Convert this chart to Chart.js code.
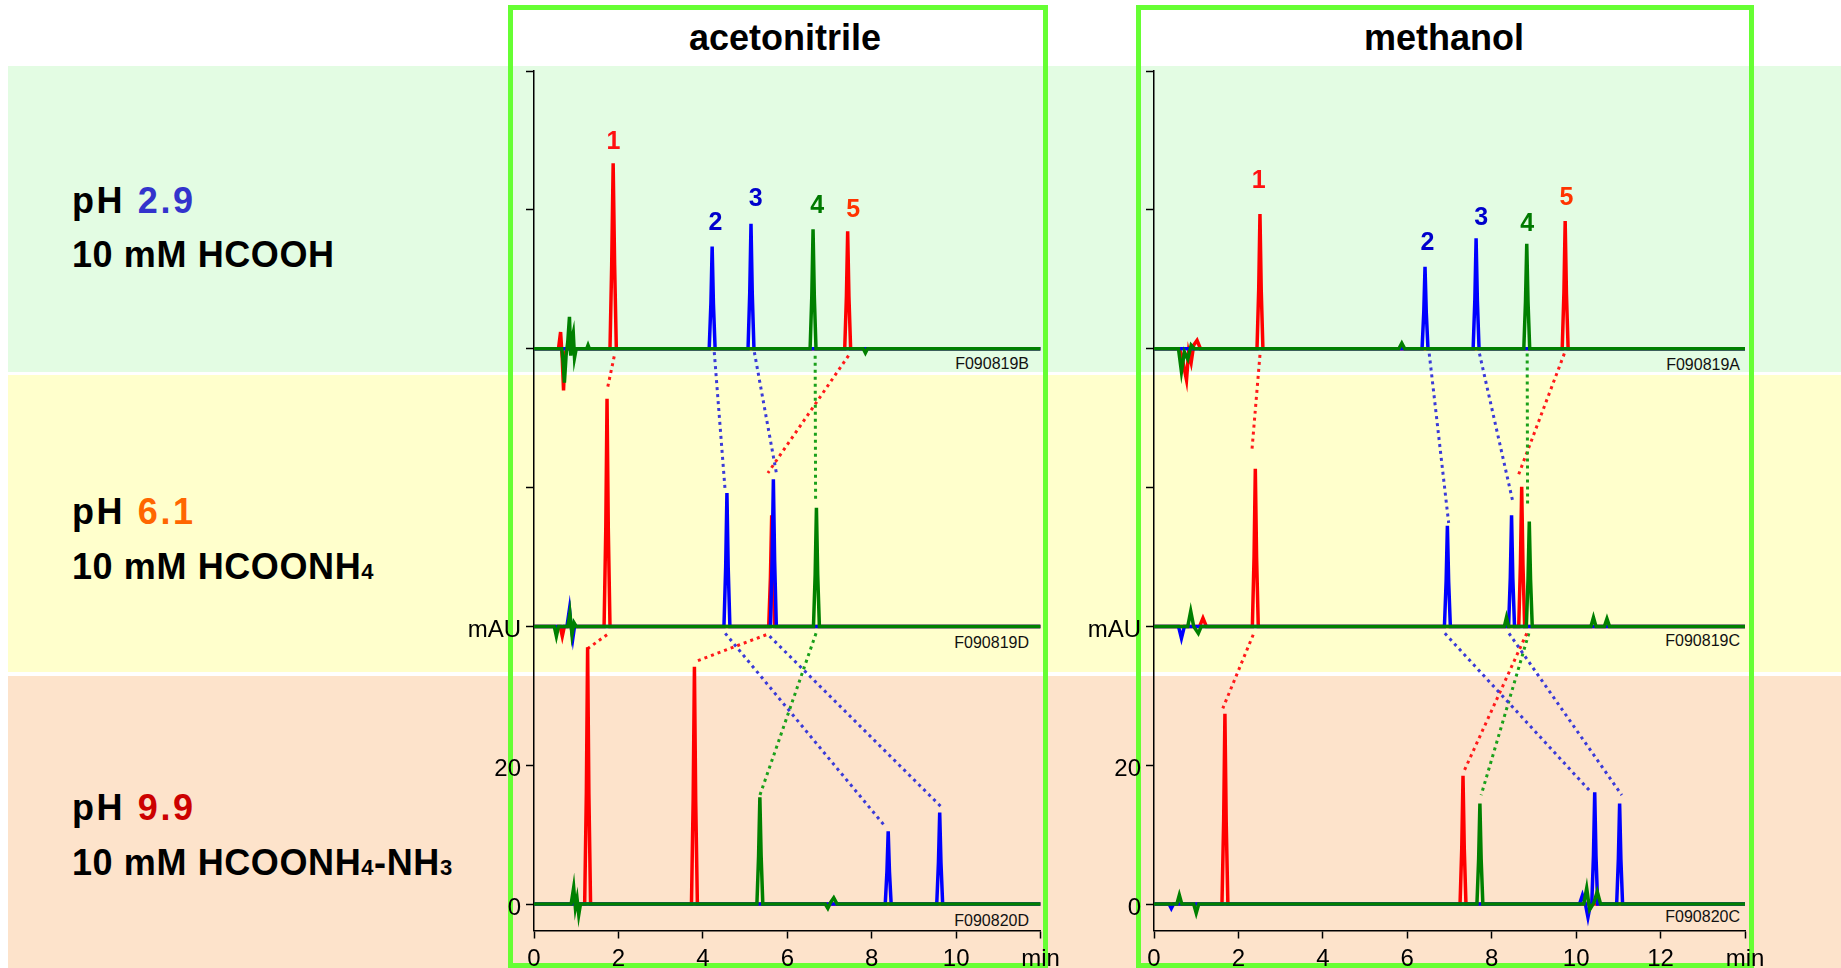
<!DOCTYPE html>
<html>
<head>
<meta charset="utf-8">
<script src="https://cdn.jsdelivr.net/npm/chart.js@4.4.1/dist/chart.umd.min.js"></script>
<style>
  html, body { margin: 0; padding: 0; }
  body { width: 1841px; height: 968px; overflow: hidden; position: relative; background: #fff;
         font-family: "Liberation Sans", Arial, sans-serif; }
  .band { position: absolute; left: 8px; right: 0; }
  .box { position: absolute; border: 5px solid #66ff33; box-sizing: border-box; }
  .title { position: absolute; font-weight: bold; font-size: 36px; line-height: 36px; text-align: center; width: 300px; }
  .cond { position: absolute; left: 72px; font-weight: bold; font-size: 36px; line-height: 36px; white-space: nowrap; letter-spacing: 0.6px; }
  .cond.ph { letter-spacing: 2.6px; }
  .cond span.s { font-size: 22px; }
  .fid { position: absolute; font-size: 16px; line-height: 16px; color: #111; }
  canvas { position: absolute; left: 0; top: 0; }
</style>
</head>
<body>
<div class="band" style="top:66px;height:306px;background:#e3fce3"></div>
<div class="band" style="top:375px;height:297px;background:#ffffcc"></div>
<div class="band" style="top:676px;height:292px;background:#fde3cb"></div>

<div class="box" style="left:508px;top:5px;width:540px;height:963px"></div>
<div class="box" style="left:1136px;top:5px;width:618px;height:963px"></div>

<div class="title" style="left:635px;top:20px">acetonitrile</div>
<div class="title" style="left:1294px;top:20px">methanol</div>

<div class="cond ph" style="top:183px">pH <span style="color:#3333cc">2.9</span></div>
<div class="cond" style="top:237px">10 mM HCOOH</div>
<div class="cond ph" style="top:494px">pH <span style="color:#ff6600">6.1</span></div>
<div class="cond" style="top:549px">10 mM HCOONH<span class="s">4</span></div>
<div class="cond ph" style="top:790px">pH <span style="color:#cc0000">9.9</span></div>
<div class="cond" style="top:845px">10 mM HCOONH<span class="s">4</span>-NH<span class="s">3</span></div>

<div class="fid" style="right:812px;top:356px">F090819B</div>
<div class="fid" style="right:812px;top:635px">F090819D</div>
<div class="fid" style="right:812px;top:913px">F090820D</div>
<div class="fid" style="right:101px;top:357px">F090819A</div>
<div class="fid" style="right:101px;top:633px">F090819C</div>
<div class="fid" style="right:101px;top:909px">F090820C</div>

<canvas id="acn" width="1841" height="995"></canvas>
<canvas id="meo" width="1841" height="995"></canvas>

<script>
// baselines of the stacked chromatograms (pH 2.9, 6.1, 9.9), mAU
var rowBase = [80, 40, 0];

var yTickValues = [0, 20, 40, 60, 80, 100, 120];
var yTickText = ['0', '20', 'mAU', '', '', '', ''];

var acnTickValues = [0, 2, 4, 6, 8, 10, 12];
var acnTickText = ['0', '2', '4', '6', '8', '10', 'min'];
var meoTickValues = [0, 2, 4, 6, 8, 10, 12, 14];
var meoTickText = ['0', '2', '4', '6', '8', '10', '12', 'min'];

// acetonitrile traces, [min, mAU above own baseline], one list per pH row
var acnRed = [
  [[0,0],[0.58,0],[0.63,2.4],[0.67,-1.5],[0.7,-6],[0.73,-1],[0.77,0],[1.8,0],[1.84,12],[1.875,26.7],[1.91,12],[1.95,0],
   [7.36,0],[7.4,7.5],[7.43,16.9],[7.46,7.5],[7.5,0],[12,0]],
  [[0,0],[0.62,0],[0.67,-1.4],[0.72,0],[1.66,0],[1.7,14],[1.73,32.8],[1.76,14],[1.8,0],
   [5.56,0],[5.6,7],[5.63,16],[5.66,7],[5.7,0],[12,0]],
  [[0,0],[1.2,0],[1.24,16],[1.27,37],[1.3,16],[1.34,0],[3.73,0],[3.77,15],[3.8,34.2],[3.83,15],[3.87,0],[12,0]]
];
var acnBlue = [
  [[0,0],[4.15,0],[4.19,6.5],[4.22,14.7],[4.25,6.5],[4.29,0],[5.07,0],[5.11,8],[5.14,18],[5.17,8],[5.21,0],[12,0]],
  [[0,0],[0.78,0],[0.84,2.5],[0.88,0],[0.92,-1.7],[0.96,0],[4.5,0],[4.54,8.5],[4.57,19.2],[4.6,8.5],[4.64,0],
   [5.6,0],[5.64,9.5],[5.67,21.2],[5.7,9.5],[5.74,0],[12,0]],
  [[0,0],[8.32,0],[8.36,4.7],[8.39,10.5],[8.42,4.7],[8.46,0],[9.54,0],[9.58,6],[9.61,13.2],[9.64,6],[9.68,0],[12,0]]
];
var acnGreen = [
  [[0,0],[0.66,0],[0.69,-2],[0.72,-4.9],[0.76,-1],[0.8,1],[0.84,4.6],[0.87,-1],[0.9,1.5],[0.93,2.3],[0.96,-1.3],[1,0],
   [1.25,0],[1.28,0.5],[1.31,0],[6.54,0],[6.58,7.5],[6.61,17.2],[6.64,7.5],[6.68,0],[7.8,0],[7.85,-0.6],[7.9,0],[12,0]],
  [[0,0],[0.48,0],[0.53,-1.4],[0.58,0],[0.8,0],[0.85,1.9],[0.9,-1.2],[0.95,0.5],[1,0],
   [6.62,0],[6.66,7.5],[6.69,17.1],[6.72,7.5],[6.76,0],[12,0]],
  [[0,0],[0.88,0],[0.94,2.4],[0.98,-0.5],[1.02,0.8],[1.06,-1.5],[1.1,0],[5.28,0],[5.32,7],[5.35,15.4],[5.38,7],[5.42,0],
   [6.9,0],[6.96,-0.6],[7.03,0.3],[7.1,0.9],[7.18,0],[12,0]]
];

// methanol traces
var meoRed = [
  [[0,0],[0.6,0],[0.66,-1],[0.72,-3],[0.77,-4.5],[0.82,-0.5],[0.88,-2],[0.94,0.5],[1.02,1.2],[1.1,0],
   [2.44,0],[2.48,8.5],[2.51,19.4],[2.54,8.5],[2.58,0],[9.67,0],[9.71,8],[9.74,18.4],[9.77,8],[9.81,0],[14,0]],
  [[0,0],[1.08,0],[1.16,1.2],[1.24,0],[2.33,0],[2.37,10],[2.4,22.7],[2.43,10],[2.47,0],
   [8.64,0],[8.68,9],[8.71,20.1],[8.74,9],[8.78,0],[14,0]],
  [[0,0],[1.61,0],[1.65,12],[1.68,27.4],[1.71,12],[1.75,0],[7.25,0],[7.29,8],[7.32,18.5],[7.35,8],[7.39,0],[14,0]]
];
var meoBlue = [
  [[0,0],[6.35,0],[6.39,5.2],[6.42,11.8],[6.45,5.2],[6.49,0],[7.56,0],[7.6,7],[7.63,15.9],[7.66,7],[7.7,0],[14,0]],
  [[0,0],[0.58,0],[0.65,-1.7],[0.72,0],[6.88,0],[6.92,6.5],[6.95,14.5],[6.98,6.5],[7.02,0],
   [8.4,0],[8.44,7],[8.47,16],[8.5,7],[8.54,0],[14,0]],
  [[0,0],[0.36,0],[0.41,-0.6],[0.46,0],[10.08,0],[10.15,1.3],[10.22,0],[10.28,-1.9],[10.34,0],[10.37,0],[10.41,7],
   [10.44,16.1],[10.47,7],[10.51,0],[10.96,0],[11,6.5],[11.03,14.5],[11.06,6.5],[11.1,0],[14,0]]
];
var meoGreen = [
  [[0,0],[0.58,0],[0.65,-3.3],[0.72,-0.5],[0.8,-1.5],[0.88,0.5],[0.95,0],[5.8,0],[5.87,0.8],[5.94,0],
   [8.76,0],[8.8,6.8],[8.83,15.1],[8.86,6.8],[8.9,0],[14,0]],
  [[0,0],[0.8,0],[0.87,2.2],[0.94,0],[1.05,-1],[1.12,0],[8.3,0],[8.35,1.3],[8.4,0],[8.82,0],[8.86,6.8],[8.89,15.1],
   [8.92,6.8],[8.96,0],[10.35,0],[10.41,1.3],[10.47,0],[10.67,0],[10.73,1.1],[10.79,0],[14,0]],
  [[0,0],[0.54,0],[0.6,1.3],[0.66,0],[0.94,0],[1,-1.3],[1.06,0],[7.65,0],[7.69,6.5],[7.72,14.5],[7.75,6.5],[7.79,0],
   [10.18,0],[10.25,2.3],[10.32,-0.8],[10.42,0.2],[10.5,1.8],[10.58,0],[14,0]]
];

// dotted links between the same compound in neighbouring rows (absolute axis values)
var acnLinkColor = ['red', 'blue', 'blue', 'green', 'red', 'red', 'red', 'blue', 'blue', 'green'];
var acnLinks = [
  [[1.9,78.9],[1.73,74]], [[4.27,79.5],[4.53,59.4]], [[5.22,79.5],[5.75,61.8]], [[6.66,79],[6.67,58.4]], [[7.45,79],[5.54,62.1]],
  [[1.73,38.8],[1.27,36.8]], [[5.5,38.8],[3.85,35]], [[4.53,39],[8.29,11.4]], [[5.58,38.6],[9.64,14.05]], [[6.68,39],[5.34,15.5]]
];
var meoLinkColor = ['red', 'blue', 'blue', 'green', 'red', 'red', 'blue', 'blue', 'red', 'green'];
var meoLinks = [
  [[2.51,79.1],[2.32,65.4]], [[6.52,79.3],[6.98,54.9]], [[7.71,79.3],[8.51,57.7]], [[8.84,79.3],[8.85,57.5]], [[9.72,79.3],[8.62,61.6]],
  [[2.35,38.8],[1.63,28.2]], [[6.89,39],[10.31,16.4]], [[8.41,39],[11.08,15.7]], [[8.83,39],[7.34,19.1]], [[8.88,39],[7.75,15.7]]
];

// peak number labels
var peakText = ['1', '2', '3', '4', '5'];
var peakColor = ['#ff1111', '#0000cc', '#0000cc', '#007a00', '#ff3300'];
var acnPeakT = [1.88, 4.3, 5.25, 6.71, 7.56];
var acnPeakV = [109.8, 98.1, 101.6, 100.5, 99.9];
var meoPeakT = [2.48, 6.48, 7.75, 8.84, 9.77];
var meoPeakV = [104.2, 95.2, 98.8, 98.0, 101.7];

var lineColor = { red: '#ff0000', blue: '#0000ff', green: '#008000' };
var dotColor = { red: '#ff1a1a', blue: '#3a3ad8', green: '#1aa01a' };

function traceSet(rows, color, order) {
  var out = [];
  rows.forEach(function (pts, r) {
    out.push({
      data: pts.map(function (p) { return { x: p[0], y: p[1] + rowBase[r] }; }),
      borderColor: lineColor[color], borderWidth: 3.5, pointRadius: 0, tension: 0, order: order
    });
  });
  return out;
}

function linkSet(links, colors) {
  return links.map(function (l, i) {
    return {
      data: l.map(function (p) { return { x: p[0], y: p[1] }; }),
      borderColor: dotColor[colors[i]], borderWidth: 3, borderDash: [3, 4], pointRadius: 0, order: 5
    };
  });
}

var peakLabels = {
  id: 'peakLabels',
  afterDatasetsDraw: function (chart, args, opts) {
    var ctx = chart.ctx;
    ctx.save();
    ctx.font = 'bold 25px "Liberation Sans", Arial, sans-serif';
    ctx.textAlign = 'center';
    ctx.textBaseline = 'middle';
    opts.t.forEach(function (t, i) {
      ctx.fillStyle = peakColor[i];
      ctx.fillText(peakText[i], chart.scales.x.getPixelForValue(t), chart.scales.y.getPixelForValue(opts.v[i]));
    });
    ctx.restore();
  }
};

function makeChart(id, xMax, tickValues, tickText, red, blue, green, links, linkColors, pt, pv, padLeft, padRight) {
  var tickFont = { family: '"Liberation Sans", Arial, sans-serif', size: 24 };
  return new Chart(document.getElementById(id), {
    type: 'line',
    data: {
      datasets: traceSet(green, 'green', 1).concat(traceSet(blue, 'blue', 2), traceSet(red, 'red', 3), linkSet(links, linkColors))
    },
    plugins: [peakLabels],
    options: {
      responsive: false,
      animation: false,
      layout: { padding: { left: padLeft, right: padRight, top: 71, bottom: 19.5 } },
      plugins: {
        legend: { display: false },
        tooltip: { enabled: false },
        peakLabels: { t: pt, v: pv }
      },
      scales: {
        x: {
          type: 'linear', min: 0, max: xMax,
          afterFit: function (s) { s.height = 45; },
          afterBuildTicks: function (s) { s.ticks = tickValues.map(function (v) { return { value: v }; }); },
          grid: { drawOnChartArea: false, drawTicks: true, tickLength: 8, tickColor: '#000', tickWidth: 1.5 },
          border: { display: true, color: '#000', width: 1.5 },
          ticks: {
            autoSkip: false, maxRotation: 0, padding: 6, color: '#000', font: tickFont,
            callback: function (v, i) { return tickText[i]; }
          }
        },
        y: {
          min: -3.8, max: 120,
          afterFit: function (s) { s.width = 80; },
          afterBuildTicks: function (s) { s.ticks = yTickValues.map(function (v) { return { value: v }; }); },
          grid: { drawOnChartArea: false, drawTicks: true, tickLength: 8, tickColor: '#000', tickWidth: 1.5 },
          border: { display: true, color: '#000', width: 1.5 },
          ticks: {
            padding: 5, labelOffset: 4, color: '#000', font: tickFont,
            callback: function (v, i) { return yTickText[i]; }
          }
        }
      }
    }
  });
}

makeChart('acn', 12, acnTickValues, acnTickText, acnRed, acnBlue, acnGreen, acnLinks, acnLinkColor, acnPeakT, acnPeakV, 454, 800.4);
makeChart('meo', 14, meoTickValues, meoTickText, meoRed, meoBlue, meoGreen, meoLinks, meoLinkColor, meoPeakT, meoPeakV, 1074, 96);
</script>
</body>
</html>
